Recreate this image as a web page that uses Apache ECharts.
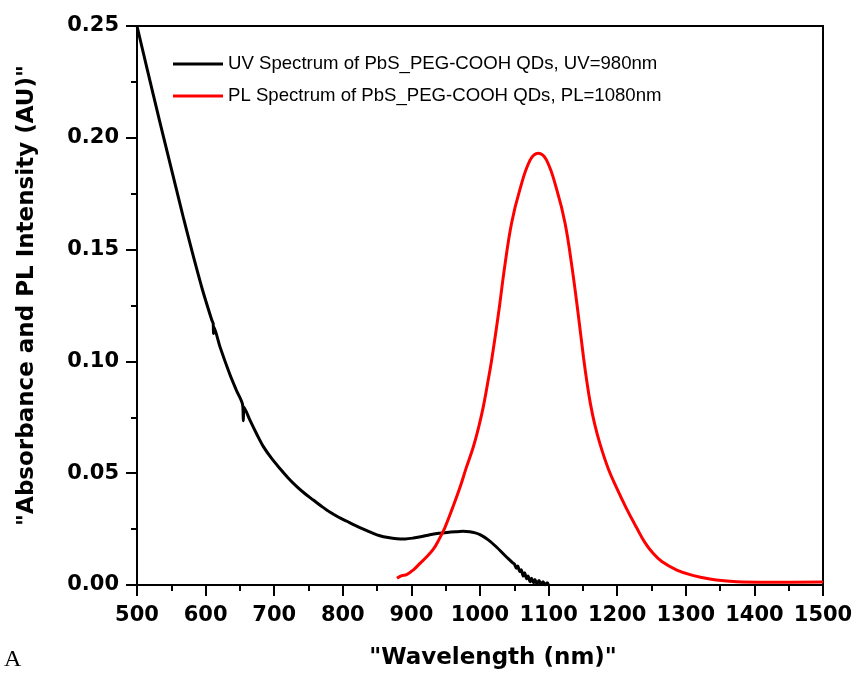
<!DOCTYPE html>
<html>
<head>
<meta charset="utf-8">
<script src="https://cdn.jsdelivr.net/npm/echarts@6/dist/echarts.min.js"></script>
<style>html,body{margin:0;padding:0;background:#fff}#c{width:857px;height:679px}</style>
</head>
<body>
<div id="c"></div>
<script>
// UV absorbance spectrum (wavelength nm, absorbance)
const uvWavelength = [500, 515, 533, 545, 557, 568, 580, 595, 609, 611, 611.5, 612, 621, 635, 645, 654, 655, 656, 665, 675, 684, 696, 708, 720, 733, 745, 757, 769, 781, 794, 806, 818, 830, 842, 854, 866, 879, 891, 903, 915, 927, 940, 952, 964, 975, 985, 993, 1000, 1012, 1024, 1036, 1044, 1048, 1050, 1053, 1055, 1058, 1060, 1063, 1065, 1068, 1070, 1073, 1075, 1078, 1080, 1083, 1086, 1089, 1092, 1095, 1098, 1100];
const uvAbsorbance = [0.250, 0.2305, 0.2075, 0.1925, 0.1775, 0.1638, 0.1495, 0.1325, 0.1185, 0.117, 0.1125, 0.1155, 0.1065, 0.0945, 0.087, 0.0805, 0.0735, 0.0795, 0.0735, 0.0672, 0.062, 0.0567, 0.0522, 0.048, 0.044, 0.0408, 0.038, 0.0352, 0.0326, 0.0303, 0.0285, 0.0267, 0.025, 0.0234, 0.022, 0.0212, 0.0207, 0.0206, 0.021, 0.0217, 0.0225, 0.0231, 0.0235, 0.0238, 0.024, 0.0238, 0.0233, 0.0225, 0.0202, 0.017, 0.0133, 0.011, 0.0098, 0.0095, 0.0075, 0.0085, 0.006, 0.0068, 0.004, 0.0055, 0.0028, 0.004, 0.0015, 0.003, 0.001, 0.0025, 0.0005, 0.002, 0.0003, 0.0015, 0.0, 0.001, 0.0];

// PL emission spectrum (wavelength nm, intensity)
const plWavelength = [879, 886, 893, 903, 913, 922, 932, 940, 949, 960, 971, 980, 990, 998, 1005, 1011, 1017, 1027, 1036, 1046, 1058, 1073, 1085, 1097, 1112, 1124, 1134, 1143, 1151, 1156, 1161, 1167, 1175, 1187, 1199, 1213, 1228, 1240, 1252, 1265, 1287, 1310, 1335, 1360, 1383, 1433, 1500];
const plIntensity = [0.003, 0.0042, 0.0046, 0.0068, 0.0098, 0.0125, 0.0160, 0.0202, 0.0258, 0.0345, 0.0438, 0.0525, 0.0615, 0.0705, 0.0800, 0.0900, 0.1006, 0.1215, 0.1424, 0.1618, 0.1767, 0.190, 0.1931, 0.190, 0.1767, 0.1618, 0.1424, 0.1215, 0.1015, 0.0905, 0.0810, 0.0722, 0.0630, 0.0520, 0.0435, 0.0345, 0.0258, 0.0192, 0.0143, 0.0105, 0.0067, 0.0043, 0.0027, 0.0018, 0.0013, 0.0012, 0.0013];

const xTicks = [500, 600, 700, 800, 900, 1000, 1100, 1200, 1300, 1400, 1500];
const yTicks = [0.00, 0.05, 0.10, 0.15, 0.20, 0.25];

const seriesNames = ['UV Spectrum of PbS_PEG-COOH QDs, UV=980nm', 'PL Spectrum of PbS_PEG-COOH QDs, PL=1080nm'];
const xName = '"Wavelength (nm)"';
const yName = '"Absorbance and PL Intensity (AU)"';

const uvData = uvWavelength.map((w, i) => [w, uvAbsorbance[i]]);
const plData = plWavelength.map((w, i) => [w, plIntensity[i]]);

const chart = echarts.init(document.getElementById('c'), null, {renderer: 'canvas'});
const bold = 'DejaVu Sans';
chart.setOption({
  animation: false,
  backgroundColor: '#fff',
  grid: {left: 137, right: 34, top: 26, bottom: 94, show: true, borderColor: '#000', borderWidth: 2, backgroundColor: 'transparent'},
  legend: {
    orient: 'vertical', left: 173, top: 54, padding: 0, itemWidth: 50, itemHeight: 3, itemGap: 12, icon: 'rect',
    textStyle: {fontFamily: 'Liberation Sans', fontSize: 18.6, color: '#000', lineHeight: 20},
    data: seriesNames
  },
  xAxis: {
    type: 'value', min: xTicks[0], max: xTicks[xTicks.length - 1], interval: 100,
    name: xName, nameLocation: 'middle', nameGap: 62,
    nameTextStyle: {fontFamily: bold, fontWeight: 'bold', fontSize: 23, color: '#000', padding: [0, 0, 0, 26]},
    axisLine: {lineStyle: {color: '#000', width: 2}},
    axisTick: {inside: false, length: 11, lineStyle: {color: '#000', width: 2}},
    minorTick: {show: true, splitNumber: 2, length: 6, lineStyle: {color: '#000', width: 2}},
    axisLabel: {margin: 20, fontFamily: bold, fontWeight: 'bold', fontSize: 21, color: '#000', formatter: v => String(v)},
    splitLine: {show: false}
  },
  yAxis: {
    type: 'value', min: yTicks[0], max: yTicks[yTicks.length - 1], interval: 0.05,
    name: yName, nameLocation: 'middle', nameGap: 98,
    nameTextStyle: {fontFamily: bold, fontWeight: 'bold', fontSize: 23, color: '#000', padding: [0, 0, 0, 20]},
    axisLine: {lineStyle: {color: '#000', width: 2}},
    axisTick: {inside: false, length: 11, lineStyle: {color: '#000', width: 2}},
    minorTick: {show: true, splitNumber: 2, length: 6, lineStyle: {color: '#000', width: 2}},
    axisLabel: {margin: 18, fontFamily: bold, fontWeight: 'bold', fontSize: 21, color: '#000', formatter: v => v.toFixed(2)},
    splitLine: {show: false}
  },
  series: [
    {name: seriesNames[0], type: 'line', data: uvData, showSymbol: false, smooth: 0.3, lineStyle: {color: '#000', width: 3}, itemStyle: {color: '#000'}, z: 3},
    {name: seriesNames[1], type: 'line', data: plData, showSymbol: false, smooth: 0.4, lineStyle: {color: '#ff0000', width: 3}, itemStyle: {color: '#ff0000'}, z: 4}
  ],
  graphic: [
    {type: 'text', left: 4, top: 648, style: {text: 'A', font: '24px "Liberation Serif"', fill: '#000'}}
  ]
});
</script>
</body>
</html>
